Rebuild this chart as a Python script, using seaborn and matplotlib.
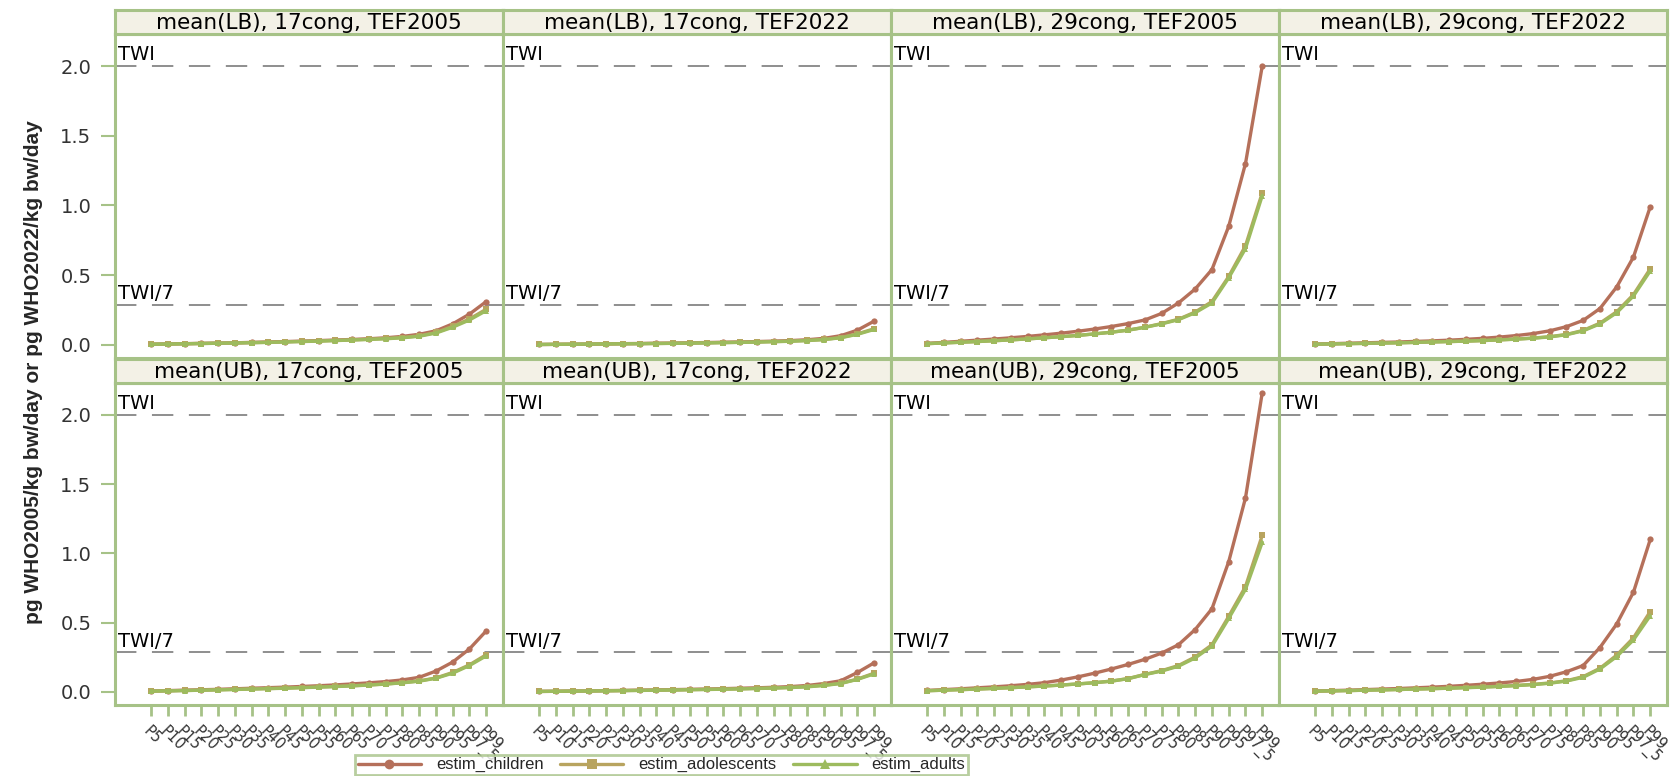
import pandas as pd
import matplotlib
matplotlib.use("Agg")
from matplotlib import pyplot as plt
from matplotlib.lines import Line2D
import matplotlib.transforms as mtransforms
import seaborn as sns

percentiles = ["P5", "P10", "P15", "P20", "P25", "P30", "P35", "P40", "P45", "P50",
               "P55", "P60", "P65", "P70", "P75", "P80", "P85", "P90", "P95", "P97_5", "P99"]
series_names = ["estim_children", "estim_adolescents", "estim_adults"]

panel_titles = ["mean(LB), 17cong, TEF2005", "mean(LB), 17cong, TEF2022",
                "mean(LB), 29cong, TEF2005", "mean(LB), 29cong, TEF2022",
                "mean(UB), 17cong, TEF2005", "mean(UB), 17cong, TEF2022",
                "mean(UB), 29cong, TEF2005", "mean(UB), 29cong, TEF2022"]

# LB, 17cong, TEF2005
lb17_05_children = [0.004, 0.006, 0.008, 0.010, 0.012, 0.014, 0.017, 0.020, 0.023, 0.026, 0.030,
                    0.034, 0.038, 0.043, 0.050, 0.060, 0.075, 0.100, 0.150, 0.220, 0.310]
lb17_05_adolescents = [0.004, 0.005, 0.007, 0.009, 0.011, 0.013, 0.015, 0.018, 0.021, 0.024, 0.027,
                       0.031, 0.035, 0.040, 0.045, 0.052, 0.064, 0.088, 0.132, 0.185, 0.255]
lb17_05_adults = [0.004, 0.005, 0.007, 0.009, 0.011, 0.013, 0.015, 0.017, 0.020, 0.023, 0.026,
                  0.030, 0.034, 0.038, 0.043, 0.050, 0.061, 0.084, 0.126, 0.178, 0.245]
# LB, 17cong, TEF2022
lb17_22_children = [0.002, 0.003, 0.004, 0.005, 0.006, 0.008, 0.009, 0.011, 0.012, 0.014, 0.016,
                    0.018, 0.020, 0.023, 0.026, 0.030, 0.036, 0.046, 0.065, 0.105, 0.170]
lb17_22_adolescents = [0.002, 0.003, 0.004, 0.005, 0.006, 0.007, 0.008, 0.009, 0.011, 0.012, 0.014,
                       0.016, 0.018, 0.020, 0.023, 0.026, 0.031, 0.038, 0.052, 0.078, 0.115]
lb17_22_adults = [0.002, 0.003, 0.004, 0.005, 0.006, 0.007, 0.008, 0.009, 0.010, 0.012, 0.013,
                  0.015, 0.017, 0.019, 0.022, 0.025, 0.030, 0.037, 0.050, 0.075, 0.110]
# LB, 29cong, TEF2005
lb29_05_children = [0.010, 0.017, 0.025, 0.033, 0.041, 0.050, 0.060, 0.071, 0.083, 0.097, 0.113,
                    0.131, 0.152, 0.178, 0.225, 0.300, 0.400, 0.540, 0.850, 1.300, 2.000]
lb29_05_adolescents = [0.008, 0.013, 0.018, 0.023, 0.029, 0.035, 0.042, 0.050, 0.058, 0.067, 0.078,
                       0.090, 0.105, 0.126, 0.152, 0.183, 0.235, 0.310, 0.490, 0.710, 1.090]
lb29_05_adults = [0.008, 0.013, 0.018, 0.023, 0.029, 0.035, 0.042, 0.050, 0.058, 0.067, 0.078,
                  0.090, 0.105, 0.125, 0.150, 0.180, 0.230, 0.300, 0.480, 0.690, 1.070]
# LB, 29cong, TEF2022
lb29_22_children = [0.005, 0.008, 0.011, 0.014, 0.017, 0.020, 0.024, 0.028, 0.033, 0.039, 0.046,
                    0.055, 0.066, 0.080, 0.100, 0.130, 0.175, 0.260, 0.415, 0.630, 0.990]
lb29_22_adolescents = [0.004, 0.006, 0.008, 0.010, 0.012, 0.014, 0.017, 0.020, 0.023, 0.026, 0.030,
                       0.035, 0.041, 0.048, 0.058, 0.074, 0.103, 0.155, 0.237, 0.360, 0.545]
lb29_22_adults = [0.004, 0.006, 0.008, 0.010, 0.012, 0.014, 0.017, 0.020, 0.023, 0.026, 0.030,
                  0.035, 0.040, 0.047, 0.056, 0.072, 0.100, 0.150, 0.230, 0.350, 0.530]
# UB, 17cong, TEF2005
ub17_05_children = [0.006, 0.009, 0.012, 0.015, 0.018, 0.022, 0.026, 0.030, 0.034, 0.039, 0.044,
                    0.050, 0.057, 0.065, 0.074, 0.086, 0.105, 0.150, 0.215, 0.310, 0.440]
ub17_05_adolescents = [0.005, 0.007, 0.010, 0.012, 0.015, 0.018, 0.021, 0.024, 0.027, 0.031, 0.035,
                       0.039, 0.044, 0.050, 0.057, 0.066, 0.079, 0.100, 0.140, 0.195, 0.268]
ub17_05_adults = [0.005, 0.007, 0.009, 0.012, 0.014, 0.017, 0.020, 0.023, 0.026, 0.030, 0.034,
                  0.038, 0.043, 0.049, 0.056, 0.065, 0.077, 0.098, 0.135, 0.190, 0.260]
# UB, 17cong, TEF2022
ub17_22_children = [0.003, 0.004, 0.006, 0.007, 0.009, 0.010, 0.012, 0.014, 0.016, 0.018, 0.020,
                    0.023, 0.026, 0.029, 0.033, 0.038, 0.046, 0.060, 0.080, 0.140, 0.210]
ub17_22_adolescents = [0.003, 0.004, 0.005, 0.006, 0.008, 0.009, 0.011, 0.012, 0.014, 0.016, 0.018,
                       0.020, 0.022, 0.025, 0.028, 0.032, 0.038, 0.048, 0.062, 0.092, 0.135]
ub17_22_adults = [0.003, 0.004, 0.005, 0.006, 0.007, 0.009, 0.010, 0.012, 0.013, 0.015, 0.017,
                  0.019, 0.021, 0.024, 0.027, 0.031, 0.036, 0.046, 0.060, 0.090, 0.130]
# UB, 29cong, TEF2005
ub29_05_children = [0.010, 0.016, 0.022, 0.029, 0.036, 0.044, 0.054, 0.066, 0.085, 0.108, 0.135,
                    0.165, 0.198, 0.235, 0.280, 0.340, 0.450, 0.600, 0.940, 1.400, 2.160]
ub29_05_adolescents = [0.008, 0.012, 0.016, 0.020, 0.025, 0.030, 0.036, 0.042, 0.049, 0.057, 0.066,
                       0.078, 0.096, 0.126, 0.153, 0.190, 0.252, 0.340, 0.545, 0.760, 1.130]
ub29_05_adults = [0.008, 0.012, 0.016, 0.020, 0.025, 0.030, 0.036, 0.042, 0.049, 0.057, 0.066,
                  0.077, 0.095, 0.125, 0.150, 0.185, 0.245, 0.330, 0.530, 0.740, 1.080]
# UB, 29cong, TEF2022
ub29_22_children = [0.006, 0.009, 0.012, 0.016, 0.020, 0.024, 0.029, 0.034, 0.040, 0.047, 0.055,
                    0.064, 0.075, 0.090, 0.112, 0.145, 0.190, 0.320, 0.490, 0.720, 1.100]
ub29_22_adolescents = [0.005, 0.007, 0.009, 0.012, 0.014, 0.017, 0.020, 0.023, 0.027, 0.031, 0.035,
                       0.040, 0.046, 0.054, 0.064, 0.080, 0.110, 0.170, 0.265, 0.390, 0.580]
ub29_22_adults = [0.005, 0.007, 0.009, 0.012, 0.014, 0.017, 0.020, 0.023, 0.026, 0.030, 0.034,
                  0.039, 0.045, 0.052, 0.062, 0.078, 0.105, 0.165, 0.255, 0.375, 0.550]

panel_data = [
    (lb17_05_children, lb17_05_adolescents, lb17_05_adults),
    (lb17_22_children, lb17_22_adolescents, lb17_22_adults),
    (lb29_05_children, lb29_05_adolescents, lb29_05_adults),
    (lb29_22_children, lb29_22_adolescents, lb29_22_adults),
    (ub17_05_children, ub17_05_adolescents, ub17_05_adults),
    (ub17_22_children, ub17_22_adolescents, ub17_22_adults),
    (ub29_05_children, ub29_05_adolescents, ub29_05_adults),
    (ub29_22_children, ub29_22_adolescents, ub29_22_adults),
]

ref_values = [2.0, 2.0 / 7]
ref_labels = ["TWI", "TWI/7"]

colors = {"estim_children": "#B5705A", "estim_adolescents": "#B8A45F", "estim_adults": "#9DBB5E"}
markers = {"estim_children": "o", "estim_adolescents": "s", "estim_adults": "^"}
frame_green = "#A6C287"
strip_fill = "#F3F1E6"

sns.set_theme(style="white")
plt.rcParams["font.family"] = ["DejaVu Sans"]

W, H = 1672, 776
fig = plt.figure(figsize=(W / 100, H / 100), dpi=100)

col_left = [115, 503, 891, 1279]
col_w = 388
rows = [(34, 358, 10), (383, 705, 359)]  # plot top, plot bottom, strip top

for i, (title, vals) in enumerate(zip(panel_titles, panel_data)):
    r, c = divmod(i, 4)
    top, bot, stop = rows[r]
    ax = fig.add_axes([col_left[c] / W, 1 - bot / H, col_w / W, (bot - top) / H])
    sax = fig.add_axes([col_left[c] / W, 1 - top / H, col_w / W, (top - stop) / H])

    df = pd.DataFrame({
        "pct": percentiles * 3,
        "value": list(vals[0]) + list(vals[1]) + list(vals[2]),
        "series": [s for s in series_names for _ in percentiles],
    })
    sns.lineplot(data=df, x="pct", y="value", hue="series", style="series",
                 palette=colors, markers=markers, dashes=False, sort=False,
                 linewidth=2.4, markersize=4.5, markeredgewidth=0, legend=False, ax=ax)

    for v, lab in zip(ref_values, ref_labels):
        ax.axhline(v, color="#8E8E8E", lw=1.4, ls=(0, (11, 8)), zorder=0)
        trans = mtransforms.blended_transform_factory(ax.transAxes, ax.transData)
        ax.text(0.008, v + 0.012, lab, transform=trans, fontsize=14, color="black",
                ha="left", va="bottom")

    ax.set_xlim(-2.15, 21.0)
    ax.set_ylim(-0.095, 2.23)
    ax.set_xlabel("")
    ax.set_ylabel("")
    for sp in ax.spines.values():
        sp.set_color(frame_green)
        sp.set_linewidth(2.2)

    if c == 0:
        ax.set_yticks([0.0, 0.5, 1.0, 1.5, 2.0])
        ax.set_yticklabels(["0.0", "0.5", "1.0", "1.5", "2.0"], fontsize=14, color="#333333")
        ax.tick_params(axis="y", length=10, width=1.5, color=frame_green, pad=7, left=True)
    else:
        ax.set_yticks([])

    if r == 1:
        ax.set_xticks(range(len(percentiles)))
        ax.set_xticklabels(percentiles, rotation=-45, ha="left", va="top",
                           rotation_mode="anchor", fontsize=10.5, color="#333333")
        ax.tick_params(axis="x", length=8, width=2, color=frame_green, pad=5, bottom=True)
    else:
        ax.set_xticks([])

    sax.set_facecolor(strip_fill)
    sax.set_xticks([])
    sax.set_yticks([])
    for sp in sax.spines.values():
        sp.set_color(frame_green)
        sp.set_linewidth(2.2)
    sax.text(0.5, 0.47, title, transform=sax.transAxes, ha="center", va="center",
             fontsize=15.5, color="black")

fig.text(0.02, 0.52, "pg WHO2005/kg bw/day or pg WHO2022/kg bw/day", rotation=90,
         ha="center", va="center", fontsize=15, fontweight="bold",
         family=["Liberation Sans Narrow", "Liberation Sans", "DejaVu Sans"])

handles = [Line2D([], [], color=colors[s], marker=markers[s], lw=2.4, markersize=7,
                  markeredgewidth=0) for s in series_names]
leg = fig.legend(handles, series_names, loc="lower left", bbox_to_anchor=(355 / W, 1 / H),
                 ncol=3, frameon=True, fancybox=False, handlelength=3.8,
                 columnspacing=1.0, borderpad=0.15, handletextpad=0.9, borderaxespad=0,
                 prop={"family": "Liberation Sans", "size": 12})
leg.get_frame().set_edgecolor(frame_green)
leg.get_frame().set_linewidth(2)

fig.savefig("out.png", dpi=100)
